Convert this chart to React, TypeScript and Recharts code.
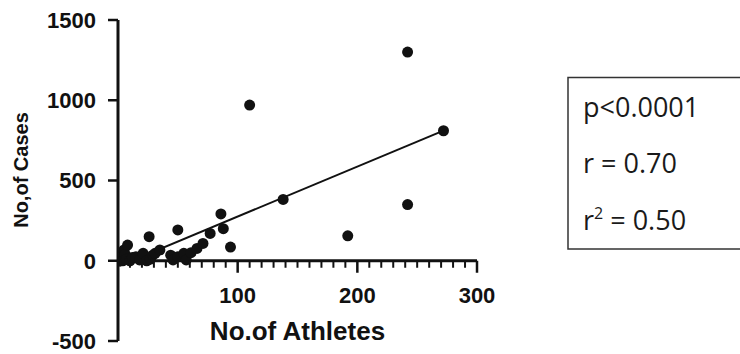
import React from 'react';
import { ScatterChart, Scatter, XAxis, YAxis, ReferenceLine } from 'recharts';

// ---- data ----
const athletes = [1, 3, 4, 5, 6, 7, 8, 10, 12, 15, 18, 21, 24, 26, 27, 29, 31, 35, 44, 46, 50, 50, 55, 57, 61, 66, 71, 77, 86, 88, 94, 110, 138, 192, 242, 242, 272];
const cases = [5, 25, 0, 67, 40, 10, 98, 0, 20, 25, 5, 46, 0, 150, 10, 35, 46, 67, 35, 5, 192, 25, 46, 5, 50, 77, 108, 170, 292, 200, 85, 970, 382, 155, 1300, 350, 810];
const trendX = [1, 272];
const trendY = [-33, 811];
const xTicks = [0, 10, 20, 30, 40, 50, 60, 70, 80, 90, 100, 110, 120, 130, 140, 150, 160, 170, 180, 190, 200, 210, 220, 230, 240, 250, 260, 270, 280, 290, 300];
const xLabelTicks = [100, 200, 300];
const yTicks = [-500, 0, 500, 1000, 1500];
const statLines = ['p<0.0001', 'r = 0.70'];
const r2Value = '0.50';

const points = athletes.map((x, i) => ({ x, y: cases[i] }));
const trend = trendX.map((x, i) => ({ x, y: trendY[i] }));

// ---- layout ----
const W = 740;
const H = 354;
const M = { top: 20, right: 263, bottom: 12, left: 0 };
const Y_AXIS_W = 118;
const X_DOMAIN: [number, number] = [0, 300];
const Y_DOMAIN: [number, number] = [-500, 1500];
const PLOT_H = H - M.top - M.bottom - 1;
const PLOT_W = W - M.left - M.right - Y_AXIS_W;
const ZERO_Y = M.top + (PLOT_H * (Y_DOMAIN[1] - 0)) / (Y_DOMAIN[1] - Y_DOMAIN[0]);
const INK = '#111';
const AXIS_FONT = '"Liberation Sans", Arial, sans-serif';

const XTick = (props: any) => {
  const { x, payload } = props;
  const v = payload.value as number;
  const major = xLabelTicks.includes(v);
  if (v === 0) return <g />;
  return (
    <g>
      <line x1={x} x2={x} y1={ZERO_Y} y2={ZERO_Y + (major ? 12 : 7)} stroke={INK} strokeWidth={major ? 2.5 : 2} />
      {major && (
        <text x={x} y={303} textAnchor="middle" fontFamily={AXIS_FONT} fontWeight="bold" fontSize={22} fill={INK}>
          {v}
        </text>
      )}
    </g>
  );
};

const XLabel = () => (
  <text x={Y_AXIS_W + PLOT_W / 2} y={340} textAnchor="middle" fontFamily={AXIS_FONT} fontWeight="bold" fontSize={26} fill={INK}>
    No.of Athletes
  </text>
);

const YLabel = () => (
  <text x={28} y={170} transform="rotate(-90, 28, 170)" textAnchor="middle" fontFamily={AXIS_FONT} fontWeight="bold" fontSize={20} fill={INK}>
    No,of Cases
  </text>
);

const Dot = (p: any) => <circle cx={p.cx} cy={p.cy} r={5.5} fill={INK} />;

export default function App() {
  return (
    <div style={{ position: 'absolute', left: 0, top: 0, width: W, height: H, overflow: 'hidden', background: '#fff' }}>
      <ScatterChart width={W} height={H} margin={M}>
        <XAxis
          type="number"
          dataKey="x"
          domain={X_DOMAIN}
          ticks={xTicks}
          interval={0}
          height={1}
          axisLine={false}
          tickLine={false}
          tick={<XTick />}
          allowDataOverflow
          label={{ content: <XLabel /> }}
        />
        <YAxis
          type="number"
          dataKey="y"
          domain={Y_DOMAIN}
          ticks={yTicks}
          interval={0}
          width={Y_AXIS_W}
          tickSize={10}
          tickMargin={12}
          axisLine={{ stroke: INK, strokeWidth: 3 }}
          tickLine={{ stroke: INK, strokeWidth: 2.5 }}
          tick={{ fontSize: 22, fontWeight: 'bold', fill: INK, fontFamily: AXIS_FONT }}
          allowDataOverflow
          label={{ content: <YLabel /> }}
        />
        <ReferenceLine y={0} stroke={INK} strokeWidth={3} />
        <Scatter data={trend} line={{ stroke: INK, strokeWidth: 2 }} shape={() => <g />} isAnimationActive={false} />
        <Scatter data={points} shape={<Dot />} isAnimationActive={false} />
      </ScatterChart>
      <svg width={W} height={H} style={{ position: 'absolute', left: 0, top: 0, pointerEvents: 'none' }}>
        <rect x={568} y={77.5} width={200} height={171.5} fill="none" stroke="#333" strokeWidth={1.5} />
        <g fontFamily='"Open Sans", sans-serif' fontSize={27} fill="#1a1a1a">
          <text x={583} y={116.5}>{statLines[0]}</text>
          <text x={583} y={172.5}>{statLines[1]}</text>
          <text x={583} y={230}>
            <tspan>r</tspan>
            <tspan fontSize={16} dy={-11}>2</tspan>
            <tspan dy={11}>{' = ' + r2Value}</tspan>
          </text>
        </g>
      </svg>
    </div>
  );
}
